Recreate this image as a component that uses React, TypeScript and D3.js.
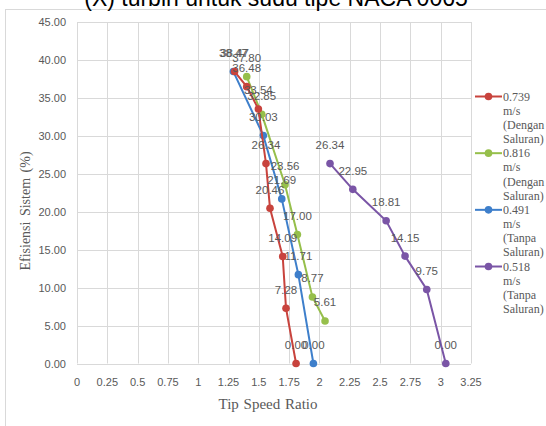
import React from "react";
import * as d3 from "d3";

const titleText = "(X) turbin untuk sudu tipe NACA 0065";
const xTicks = [0, 0.25, 0.5, 0.75, 1, 1.25, 1.5, 1.75, 2, 2.25, 2.5, 2.75, 3, 3.25];
const yTicks = [0, 5, 10, 15, 20, 25, 30, 35, 40, 45];

const redX = [1.3, 1.4, 1.496, 1.559, 1.592, 1.697, 1.724, 1.807];
const redY = [38.47, 36.48, 33.54, 26.34, 20.46, 14.09, 7.28, 0.0];
const greenX = [1.4, 1.524, 1.716, 1.818, 1.942, 2.046];
const greenY = [37.8, 32.85, 23.56, 17.0, 8.77, 5.61];
const blueX = [1.29, 1.537, 1.689, 1.826, 1.95];
const blueY = [38.47, 30.03, 21.69, 11.71, 0.0];
const purpleX = [2.087, 2.275, 2.55, 2.706, 2.885, 3.042];
const purpleY = [26.34, 22.95, 18.81, 14.15, 9.75, 0.0];

const seriesNames = [
  ["0.739", "m/s", "(Dengan", "Saluran)"],
  ["0.816", "m/s", "(Dengan", "Saluran)"],
  ["0.491", "m/s", "(Tanpa", "Saluran)"],
  ["0.518", "m/s", "(Tanpa", "Saluran)"],
];
const colors = ["#C8433D", "#96BF4B", "#3E7FCB", "#7A55A6"];

export default function App() {
  const x = d3.scaleLinear().domain([0, 3.25]).range([77, 471]);
  const y = d3.scaleLinear().domain([0, 45]).range([363.5, 22]);
  const series = [
    { xs: redX, ys: redY },
    { xs: greenX, ys: greenY },
    { xs: blueX, ys: blueY },
    { xs: purpleX, ys: purpleY },
  ];
  const labelFont = "'Liberation Sans', Arial, sans-serif";
  const serif = "'Liberation Serif', 'Times New Roman', serif";
  const order = [3, 2, 1, 0];
  return (
    <svg
      width={546}
      height={426}
      style={{ position: "absolute", left: 0, top: 0, background: "#fff" }}
    >
      <rect x={0} y={0} width={546} height={426} fill="#fff" />
      <rect x={5.5} y={9.5} width={600} height={500} fill="#fff" stroke="#d9d9d9" strokeWidth={1} />
      <text
        x={276}
        y={6}
        textAnchor="middle"
        fontFamily={labelFont}
        fontSize={23}
        fill="#000"
      >
        {titleText}
      </text>
      {yTicks.map((t) => (
        <line
          key={"gy" + t}
          x1={x(0)}
          x2={x(3.25)}
          y1={Math.round(y(t)) + 0.5}
          y2={Math.round(y(t)) + 0.5}
          stroke="#d9d9d9"
          strokeWidth={1}
        />
      ))}
      {xTicks.map((t) => (
        <line
          key={"gx" + t}
          x1={Math.round(x(t)) + 0.5}
          x2={Math.round(x(t)) + 0.5}
          y1={y(45)}
          y2={y(0)}
          stroke="#d9d9d9"
          strokeWidth={1}
        />
      ))}
      {yTicks.map((t) => (
        <text
          key={"ty" + t}
          x={66}
          y={y(t) + 4}
          textAnchor="end"
          fontFamily={labelFont}
          fontSize={11}
          fill="#595959"
        >
          {t.toFixed(2)}
        </text>
      ))}
      {xTicks.map((t) => (
        <text
          key={"tx" + t}
          x={x(t)}
          y={386}
          textAnchor="middle"
          fontFamily={labelFont}
          fontSize={11}
          fill="#595959"
        >
          {String(t)}
        </text>
      ))}
      <text
        transform={`translate(30,211) rotate(-90)`}
        textAnchor="middle"
        fontFamily={serif}
        fontSize={14}
        fill="#595959"
        style={{ wordSpacing: "2px" }}
      >
        Efisiensi Sistem (%)
      </text>
      <text
        x={268}
        y={409}
        textAnchor="middle"
        fontFamily={serif}
        fontSize={15}
        fill="#595959"
        style={{ wordSpacing: "1px" }}
      >
        Tip Speed Ratio
      </text>
      {order.map((i) => {
        const s = series[i];
        const pts: [number, number][] = s.xs.map((v, j) => [x(v), y(s.ys[j])]);
        const path = d3.line()(pts) || "";
        return (
          <g key={"s" + i}>
            <path d={path} fill="none" stroke={colors[i]} strokeWidth={2} />
            {pts.map((p, j) => (
              <circle key={j} cx={p[0]} cy={p[1]} r={3.8} fill={colors[i]} />
            ))}
          </g>
        );
      })}
      {series.map((s, i) =>
        s.xs.map((v, j) => (
          <text
            key={"l" + i + "-" + j}
            x={x(v)}
            y={y(s.ys[j]) - 14.5}
            textAnchor="middle"
            fontFamily={labelFont}
            fontSize={11.5}
            fill="#595959"
          >
            {s.ys[j].toFixed(2)}
          </text>
        ))
      )}
      {seriesNames.map((lines, i) => {
        const cy = 96.5 + i * 56.67;
        return (
          <g key={"lg" + i}>
            <line x1={475} x2={502} y1={cy} y2={cy} stroke={colors[i]} strokeWidth={2} />
            <circle cx={488.5} cy={cy} r={3.8} fill={colors[i]} />
            {lines.map((t, k) => (
              <text
                key={k}
                x={503}
                y={cy + 4 + k * 14.17}
                fontFamily={serif}
                fontSize={12}
                fill="#595959"
              >
                {t}
              </text>
            ))}
          </g>
        );
      })}
    </svg>
  );
}
